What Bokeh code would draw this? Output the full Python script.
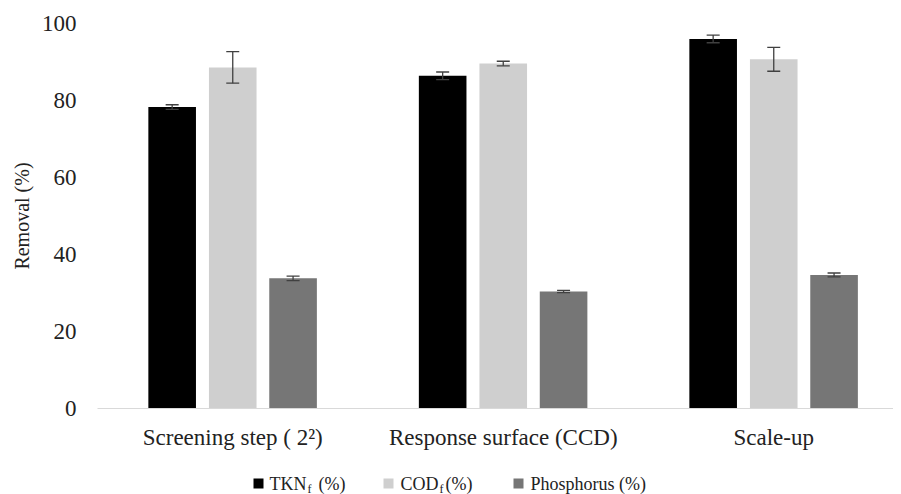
from bokeh.plotting import figure
from bokeh.layouts import column
from bokeh.models import Range1d, FixedTicker, Whisker, ColumnDataSource, TeeHead
from bokeh.core.properties import value
from bokeh.embed import file_html
from bokeh.resources import INLINE

# ---- data ----
categories = ["Screening step ( 2²)", "Response surface (CCD)", "Scale-up"]
series_names = ["TKN", "COD", "Phosphorus"]
tkn = [78.3, 86.4, 96.0]
tkn_err = [0.6, 1.0, 1.0]
cod = [88.6, 89.6, 90.7]
cod_err = [4.1, 0.6, 3.1]
phos = [33.8, 30.4, 34.7]
phos_err = [0.6, 0.3, 0.5]
y_ticks = [0, 20, 40, 60, 80, 100]

colors = ["#000000", "#cfcfcf", "#767676"]
offsets = [-0.224, 0.0, 0.223]
bar_w = 0.176

FONT = "Liberation Serif"
TXT = "#222222"

FW, FH = 796, 385
LEFT, TOP, BOTTOM = 97, 23, 42
p = figure(width=LEFT + FW, height=TOP + FH + BOTTOM, frame_width=FW, frame_height=FH,
           min_border_left=LEFT, min_border_top=TOP, min_border_bottom=BOTTOM, min_border_right=0,
           output_backend="svg", toolbar_location=None,
           x_range=Range1d(-0.5, -0.5 + FW / 270.5), y_range=Range1d(0, 100))
p.outline_line_color = None
p.xgrid.visible = False
p.ygrid.visible = False

for vals, errs, c, off in zip([tkn, cod, phos], [tkn_err, cod_err, phos_err], colors, offsets):
    xs = [i + off for i in range(len(categories))]
    src = ColumnDataSource(dict(x=xs, top=vals,
                                lo=[v - e for v, e in zip(vals, errs)],
                                hi=[v + e for v, e in zip(vals, errs)]))
    p.vbar(x="x", top="top", bottom=0, width=bar_w, source=src, fill_color=c, line_color=None)
    w = Whisker(base="x", lower="lo", upper="hi", source=src, line_color="#404040", line_width=1.3,
                level="overlay",
                upper_head=TeeHead(size=13, line_color="#404040", line_width=1.3),
                lower_head=TeeHead(size=13, line_color="#404040", line_width=1.3))
    p.add_layout(w)

# axes
p.xaxis.ticker = FixedTicker(ticks=list(range(len(categories))))
p.xaxis.major_label_overrides = {i: c for i, c in enumerate(categories)}
p.xaxis.major_tick_line_color = None
p.xaxis.minor_tick_line_color = None
p.xaxis.axis_line_color = "#d9d9d9"
p.xaxis.major_label_text_font = FONT
p.xaxis.major_label_text_font_size = "23px"
p.xaxis.major_label_text_color = TXT
p.xaxis.major_label_standoff = 10

p.yaxis.ticker = FixedTicker(ticks=y_ticks)
p.yaxis.major_tick_line_color = None
p.yaxis.minor_tick_line_color = None
p.yaxis.axis_line_color = None
p.yaxis.major_label_text_font = FONT
p.yaxis.major_label_text_font_size = "23px"
p.yaxis.major_label_text_color = TXT
p.yaxis.major_label_standoff = 15
p.yaxis.axis_label = "Removal (%)"
p.yaxis.axis_label_text_font = FONT
p.yaxis.axis_label_text_font_size = "20px"
p.yaxis.axis_label_text_font_style = "normal"
p.yaxis.axis_label_text_color = TXT
p.yaxis.axis_label_standoff = 6

# legend (separate strip aligned with the plot frame, to allow subscripts)
LH = 43
lg = figure(width=LEFT + FW, height=LH, frame_width=FW, frame_height=LH,
            output_backend="svg", toolbar_location=None,
            x_range=Range1d(0, FW), y_range=Range1d(0, LH),
            min_border_left=LEFT, min_border_right=0, min_border_top=0, min_border_bottom=0,
            x_axis_type=None, y_axis_type=None)
lg.outline_line_color = None
lg.xgrid.visible = False
lg.ygrid.visible = False

ly = 12
sq_x = [161, 291, 421]
lg.rect(x=sq_x, y=[ly] * 3, width=10, height=10, width_units="screen", height_units="screen",
        fill_color=colors, line_color=None)
main_txt = ["TKN", "COD", "Phosphorus (%)"]
main_x = [172, 303, 433]
lg.text(x=main_x, y=[ly] * 3, text=main_txt, text_font=value(FONT), text_font_size="18px",
        text_color=TXT, text_baseline="middle", text_align="left")
lg.text(x=[210, 342], y=[ly - 5] * 2, text=["f", "f"], text_font=value(FONT), text_font_size="12px",
        text_color=TXT, text_baseline="middle", text_align="left")
lg.text(x=[221, 348], y=[ly] * 2, text=["(%)", "(%)"], text_font=value(FONT), text_font_size="18px",
        text_color=TXT, text_baseline="middle", text_align="left")

layout = column(p, lg, spacing=0)
open("out.html", "w").write(file_html(layout, INLINE))
